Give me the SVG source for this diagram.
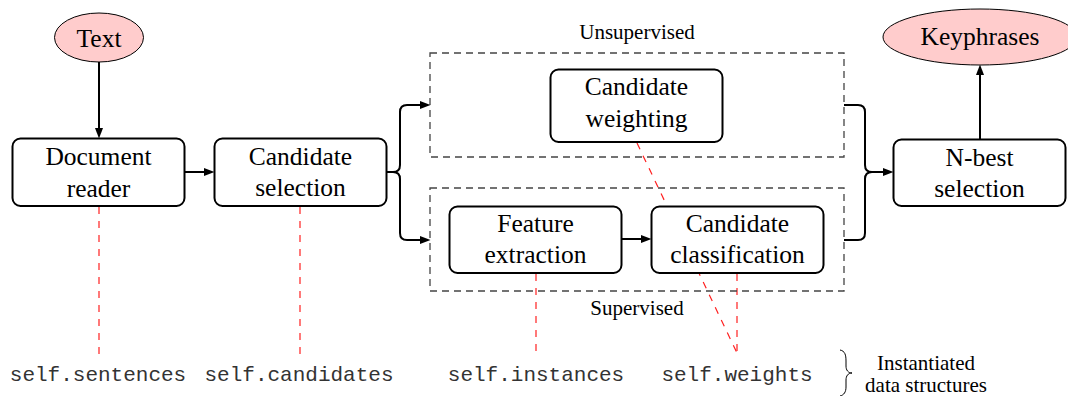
<svg xmlns="http://www.w3.org/2000/svg" width="1068" height="396" viewBox="0 0 1068 396">
<defs>
<marker id="ah" markerUnits="userSpaceOnUse" markerWidth="12" markerHeight="9" refX="8" refY="4" orient="auto">
<path d="M0,0 L10.5,4 L0,8 z" fill="#000"/>
</marker>
<style>
.node rect{fill:#fff;stroke:#000;stroke-width:2}
.term ellipse{fill:#ffcccc;stroke:#000;stroke-width:1}
.lbl{font-family:"Liberation Serif","Times New Roman",serif;font-size:25.5px;fill:#000;text-anchor:middle}
.small{font-family:"Liberation Serif","Times New Roman",serif;font-size:21px;fill:#000;text-anchor:middle}
.mono{font-family:"Liberation Mono","Courier New",monospace;font-size:21px;fill:#333;text-anchor:middle}
.conn{fill:none;stroke:#000;stroke-width:2}
.group{fill:none;stroke:#444;stroke-width:1.3;stroke-dasharray:7 5}
.ref{fill:none;stroke:#ff2020;stroke-width:1.2;stroke-dasharray:7 7}
</style>
</defs>
<rect width="1068" height="396" fill="#fff"/>

<g id="references">
<line class="ref" x1="99" y1="207" x2="99" y2="355"/>
<line class="ref" x1="300" y1="207" x2="300" y2="355"/>
<line class="ref" x1="536" y1="274" x2="536" y2="352"/>
<line class="ref" x1="737" y1="274" x2="737" y2="353"/>
<line class="ref" x1="637" y1="143" x2="737" y2="353"/>
</g>

<g id="unsupervised-group">
<rect class="group" x="430" y="53" width="414" height="104"/>
<text class="small" x="637" y="39">Unsupervised</text>
</g>
<g id="supervised-group">
<rect class="group" x="430" y="188" width="414" height="103"/>
<text class="small" x="637" y="315">Supervised</text>
</g>

<g id="connectors">
<line class="conn" x1="99" y1="62" x2="99" y2="136" marker-end="url(#ah)"/>
<line class="conn" x1="185" y1="172" x2="212" y2="172" marker-end="url(#ah)"/>
<path class="conn" d="M387,172 H393 Q400,172 400,165 V112 Q400,105 407,105 H428" marker-end="url(#ah)"/>
<path class="conn" d="M387,172 H393 Q400,172 400,179 V233 Q400,240 407,240 H428" marker-end="url(#ah)"/>
<line class="conn" x1="622" y1="239" x2="649" y2="239" marker-end="url(#ah)"/>
<path class="conn" d="M844,105 H858 Q865,105 865,112 V165 Q865,172 872,172 H891" marker-end="url(#ah)"/>
<path class="conn" d="M844,240 H858 Q865,240 865,233 V179 Q865,172 872,172"/>
<line class="conn" x1="980" y1="139" x2="980" y2="67" marker-end="url(#ah)"/>
</g>

<g id="text-input" class="term">
<ellipse cx="99" cy="37.5" rx="44.5" ry="24.5"/>
<text class="lbl" x="99" y="47">Text</text>
</g>
<g id="keyphrases" class="term">
<ellipse cx="980" cy="37" rx="97" ry="28"/>
<text class="lbl" x="980" y="45">Keyphrases</text>
</g>

<g id="document-reader" class="node">
<rect x="12.5" y="138.5" width="172" height="67.5" rx="8"/>
<text class="lbl" x="98.5" y="165">Document</text>
<text class="lbl" x="98.5" y="197">reader</text>
</g>
<g id="candidate-selection" class="node">
<rect x="214.5" y="138.5" width="172" height="67.5" rx="8"/>
<text class="lbl" x="300.5" y="165">Candidate</text>
<text class="lbl" x="300.5" y="196">selection</text>
</g>
<g id="candidate-weighting" class="node">
<rect x="550.5" y="69.5" width="172" height="72.5" rx="8"/>
<text class="lbl" x="636.5" y="95">Candidate</text>
<text class="lbl" x="636.5" y="127">weighting</text>
</g>
<g id="feature-extraction" class="node">
<rect x="449.5" y="206.5" width="172" height="66.5" rx="8"/>
<text class="lbl" x="535.5" y="232">Feature</text>
<text class="lbl" x="535.5" y="263">extraction</text>
</g>
<g id="candidate-classification" class="node">
<rect x="651.5" y="206.5" width="172" height="66.5" rx="8"/>
<text class="lbl" x="737.5" y="232">Candidate</text>
<text class="lbl" x="737.5" y="263">classification</text>
</g>
<g id="n-best-selection" class="node">
<rect x="893.5" y="139.5" width="172" height="66.5" rx="8"/>
<text class="lbl" x="979.5" y="166">N-best</text>
<text class="lbl" x="979.5" y="197">selection</text>
</g>

<g id="data-structures">
<text class="mono" x="98" y="381">self.sentences</text>
<text class="mono" x="299" y="381">self.candidates</text>
<text class="mono" x="536" y="381">self.instances</text>
<text class="mono" x="737" y="381">self.weights</text>
<path d="M840,350 C845,351 846,355 846,361 L846,366 C846,370 848,373 852,373 C848,373 846,376 846,380 L846,387 C846,392 844,395 840,396" fill="none" stroke="#000" stroke-width="1"/>
<text class="small" x="926" y="370">Instantiated</text>
<text class="small" x="926" y="392">data structures</text>
</g>
</svg>
